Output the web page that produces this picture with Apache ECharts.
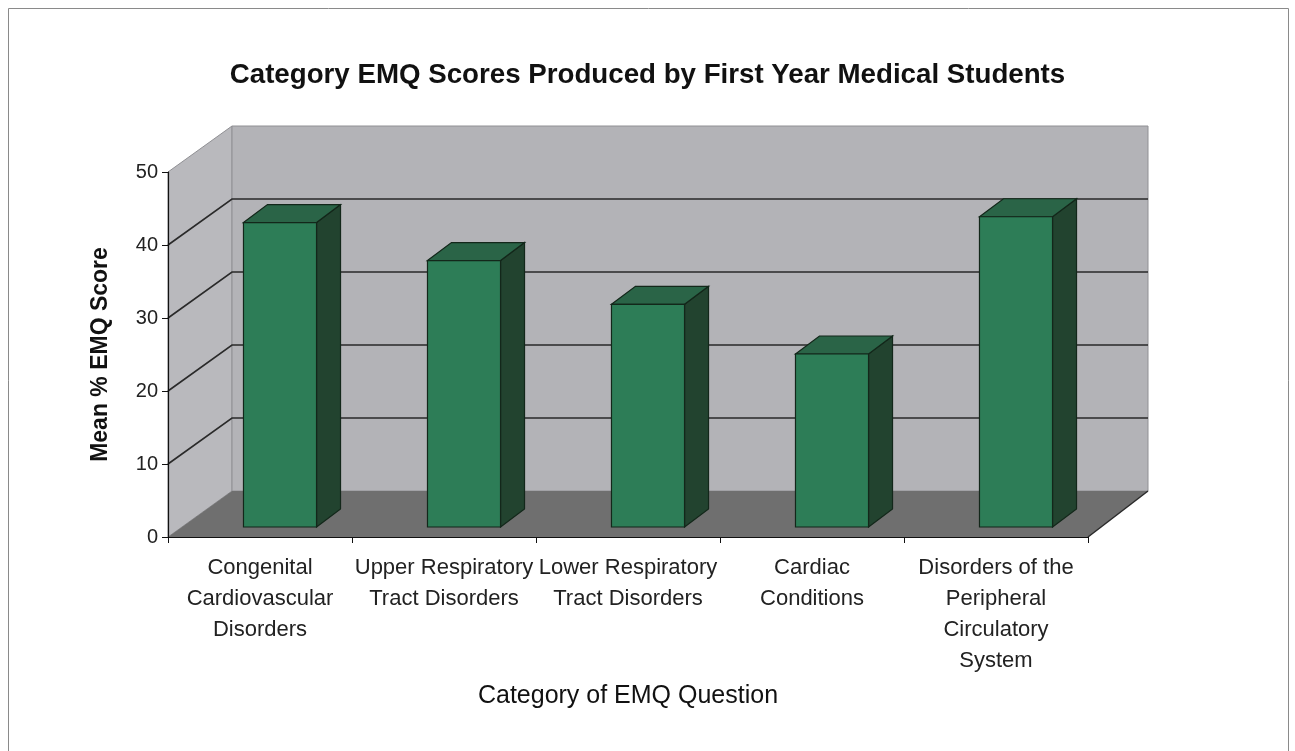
<!DOCTYPE html>
<html><head><meta charset="utf-8">
<script src="https://cdn.jsdelivr.net/npm/echarts@6/dist/echarts.min.js"></script>
<style>html,body{margin:0;padding:0;background:#fff}#c{width:1295px;height:751px}</style>
</head><body><div id="c"></div>
<script>
const categories = ['Congenital\nCardiovascular\nDisorders', 'Upper Respiratory\nTract Disorders', 'Lower Respiratory\nTract Disorders', 'Cardiac\nConditions', 'Disorders of the\nPeripheral\nCirculatory\nSystem'];
const scores = [41.7, 36.5, 30.5, 23.7, 42.5];
const yTicks = [0, 10, 20, 30, 40, 50];

const chart = echarts.init(document.getElementById('c'), null, {renderer: 'canvas'});
const DEPTH_L = [64, -46];
const DEPTH_R = [60, -46];
const BAR_SHIFT = [20, -10];
const BAR_DEPTH = [24, -18];

function renderWalls(params, api) {
  const cs = params.coordSys;
  const x0 = cs.x, x1 = cs.x + cs.width, yb = cs.y + cs.height, yt = cs.y;
  const dxl = DEPTH_L[0], dxr = DEPTH_R[0], dy = DEPTH_L[1];
  const ch = [];
  ch.push({type: 'polygon', shape: {points: [[x0, yb], [x0 + dxl, yb + dy], [x0 + dxl, yt + dy], [x0, yt]]},
    style: {fill: '#b9b9bd', stroke: '#909094', lineWidth: 1}});
  ch.push({type: 'polygon', shape: {points: [[x0 + dxl, yt + dy], [x1 + dxr, yt + dy], [x1 + dxr, yb + dy], [x0 + dxl, yb + dy]]},
    style: {fill: '#b3b3b7', stroke: '#909094', lineWidth: 1}});
  ch.push({type: 'polygon', shape: {points: [[x0, yb], [x0 + dxl, yb + dy], [x1 + dxr, yb + dy], [x1, yb]]},
    style: {fill: '#6f6f6f'}});
  yTicks.forEach(function (v) {
    if (v === yTicks[0] || v === yTicks[yTicks.length - 1]) return;
    const y = api.coord([0, v])[1];
    ch.push({type: 'polyline', shape: {points: [[x0, y], [x0 + dxl, y + dy], [x1 + dxr, y + dy]]},
      style: {stroke: '#2a2a2a', lineWidth: 1.6, fill: null}});
  });
  ch.push({type: 'line', shape: {x1: x1, y1: yb, x2: x1 + dxr, y2: yb + dy}, style: {stroke: '#2a2a2a', lineWidth: 1.5}});
  return {type: 'group', children: ch};
}

function renderBar(params, api) {
  const i = api.value(0), v = api.value(1);
  const top = api.coord([i, v]);
  const base = api.coord([i, 0]);
  const w = api.size([1, 0])[0] * 0.397;
  const cx = top[0] + BAR_SHIFT[0];
  const L = cx - w / 2, R = cx + w / 2, T = top[1] + BAR_SHIFT[1], B = base[1] + BAR_SHIFT[1];
  const dx = BAR_DEPTH[0], dy = BAR_DEPTH[1];
  const stroke = '#13271a';
  return {type: 'group', children: [
    {type: 'polygon', shape: {points: [[R, T], [R + dx, T + dy], [R + dx, B + dy], [R, B]]}, style: {fill: '#22432f', stroke: stroke, lineWidth: 1.2}},
    {type: 'polygon', shape: {points: [[L, T], [L + dx, T + dy], [R + dx, T + dy], [R, T]]}, style: {fill: '#2a6447', stroke: stroke, lineWidth: 1.2}},
    {type: 'rect', shape: {x: L, y: T, width: R - L, height: B - T}, style: {fill: '#2d7d57', stroke: stroke, lineWidth: 1.2}}
  ]};
}

chart.setOption({
  backgroundColor: '#ffffff',
  animation: false,
  title: {
    text: 'Category EMQ Scores Produced by First Year Medical Students',
    left: 'center', top: 56, padding: [5, 5, 5, 25],
    textStyle: {fontFamily: "'Liberation Sans', Arial, sans-serif", fontSize: 27.7, fontWeight: 'bold', color: '#111'}
  },
  graphic: [{type: 'rect', shape: {x: 8.5, y: 8.5, width: 1280, height: 760}, style: {fill: null, stroke: '#8a8a8a', lineWidth: 1}, z: 100}],
  grid: {left: 168, right: 207, top: 172, bottom: 214, containLabel: false},
  xAxis: {
    type: 'category', data: categories, z: 5,
    axisLine: {show: true, lineStyle: {color: '#111', width: 1.2}},
    axisTick: {show: true, length: 6, interval: 0, lineStyle: {color: '#111'}},
    axisLabel: {interval: 0, fontFamily: "'Liberation Sans', Arial, sans-serif", fontSize: 22, lineHeight: 31, margin: 15, color: '#222'},
    splitLine: {show: false},
    name: 'Category of EMQ Question', nameLocation: 'middle', nameGap: 147,
    nameTextStyle: {fontFamily: "'Liberation Sans', Arial, sans-serif", fontSize: 25, color: '#111'}
  },
  yAxis: {
    type: 'value', min: 0, max: 50, interval: 10, z: 5,
    axisLine: {show: true, lineStyle: {color: '#111', width: 1.2}},
    axisTick: {show: true, length: 6, lineStyle: {color: '#111'}},
    axisLabel: {fontFamily: "'Liberation Sans', Arial, sans-serif", fontSize: 20, margin: 10, color: '#222'},
    splitLine: {show: false},
    name: 'Mean % EMQ Score', nameLocation: 'middle', nameGap: 56, nameRotate: 90,
    nameTextStyle: {fontFamily: "'Liberation Sans', Arial, sans-serif", fontSize: 23, fontWeight: 'bold', color: '#111'}
  },
  series: [
    {type: 'custom', renderItem: renderWalls, data: [[0, 0]], z: 1, silent: true},
    {type: 'custom', renderItem: renderBar, data: scores.map(function (v, i) { return [i, v]; }), z: 3}
  ]
});
</script></body></html>
